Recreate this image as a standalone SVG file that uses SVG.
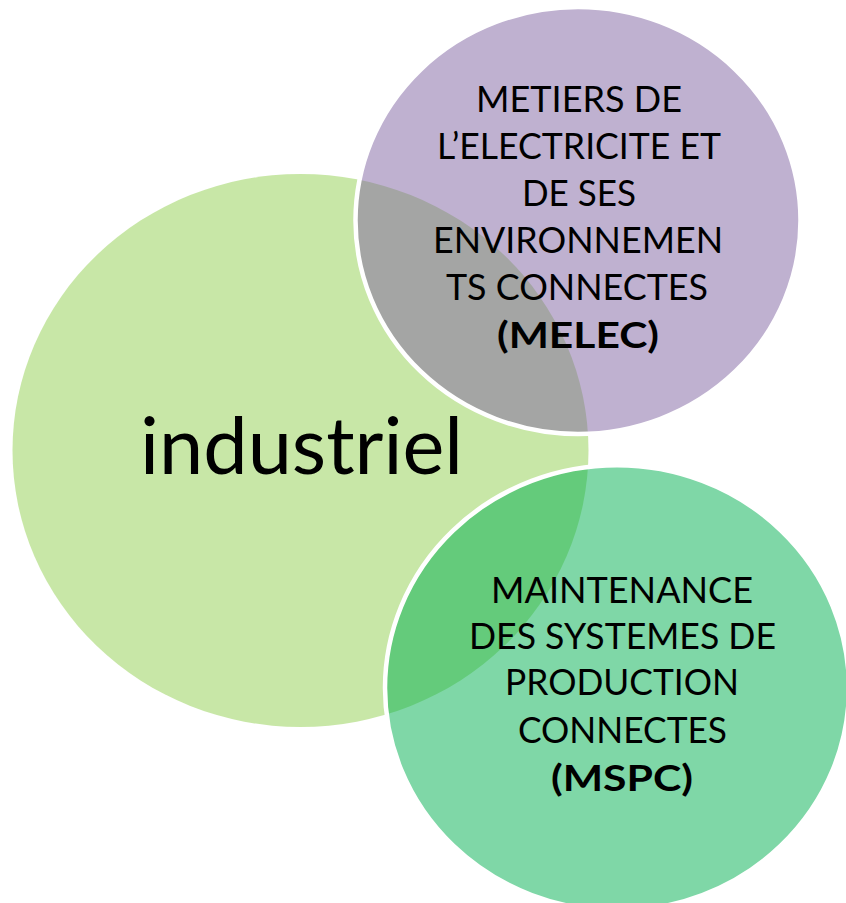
<svg xmlns="http://www.w3.org/2000/svg" width="846" height="903" viewBox="0 0 846 903">
<style>
.lbl{font-family:Lato,"Liberation Sans",sans-serif;font-size:37px;fill:#000;text-anchor:middle}
.b{font-weight:bold}
.big{font-family:Lato,"Liberation Sans",sans-serif;font-size:80px;fill:#000;text-anchor:middle}
.ring{stroke:#fff;stroke-width:4.5}
</style>
<rect width="846" height="903" fill="#fff"/>
<g id="industriel">
<ellipse cx="300.5" cy="450.5" rx="288" ry="276.5" fill="#92D050" fill-opacity="0.5"/>
<text class="big" x="301.5" y="474" textLength="323" lengthAdjust="spacingAndGlyphs">industriel</text>
</g>
<g id="melec">
<ellipse class="ring" cx="578" cy="220.5" rx="222.5" ry="213.5" fill="#8064A2" fill-opacity="0.5"/>
<text class="lbl" x="579" y="112" textLength="206" lengthAdjust="spacingAndGlyphs">METIERS DE</text>
<text class="lbl" x="579" y="159" textLength="284" lengthAdjust="spacingAndGlyphs">L’ELECTRICITE ET</text>
<text class="lbl" x="579" y="206" textLength="114" lengthAdjust="spacingAndGlyphs">DE SES</text>
<text class="lbl" x="578" y="253" textLength="290" lengthAdjust="spacingAndGlyphs">ENVIRONNEMEN</text>
<text class="lbl" x="577" y="300" textLength="262" lengthAdjust="spacingAndGlyphs">TS CONNECTES</text>
<text class="lbl b" x="578" y="348" textLength="162" lengthAdjust="spacingAndGlyphs">(MELEC)</text>
</g>
<g id="mspc">
<ellipse class="ring" cx="617" cy="688" rx="232" ry="222.7" fill="#00B050" fill-opacity="0.5"/>
<text class="lbl" x="622" y="603" textLength="262" lengthAdjust="spacingAndGlyphs">MAINTENANCE</text>
<text class="lbl" x="622.5" y="649" textLength="307" lengthAdjust="spacingAndGlyphs">DES SYSTEMES DE</text>
<text class="lbl" x="622" y="695" textLength="234" lengthAdjust="spacingAndGlyphs">PRODUCTION</text>
<text class="lbl" x="622.5" y="743" textLength="209" lengthAdjust="spacingAndGlyphs">CONNECTES</text>
<text class="lbl b" x="622" y="791" textLength="142" lengthAdjust="spacingAndGlyphs">(MSPC)</text>
</g>
<g id="connectors"/>
</svg>
